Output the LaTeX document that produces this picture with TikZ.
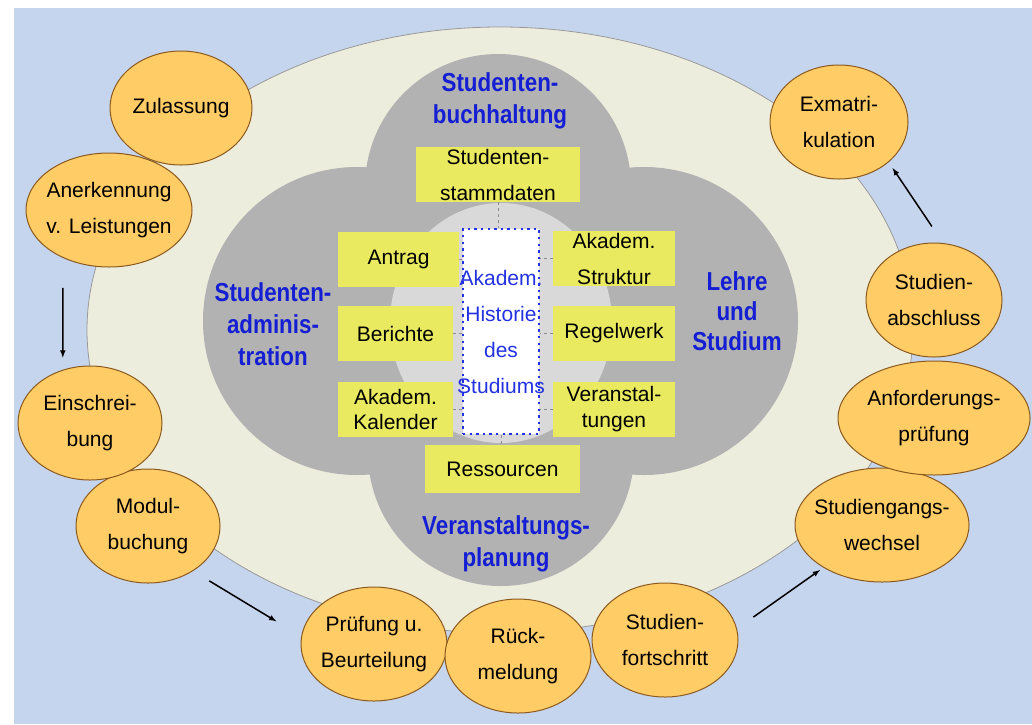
\documentclass[tikz,border=0pt]{standalone}
\usepackage{fontspec}
\setmainfont{Liberation Sans}
\newfontfamily\areafont[FakeStretch=0.86]{Liberation Sans}
\usetikzlibrary{shapes.geometric}

\definecolor{bgblue}{RGB}{198,213,238}
\definecolor{cream}{RGB}{237,237,222}
\definecolor{coregray}{RGB}{178,178,178}
\definecolor{innergray}{RGB}{217,217,217}
\definecolor{boxyellow}{RGB}{234,234,96}
\definecolor{procfill}{RGB}{255,204,102}
\definecolor{procline}{RGB}{140,90,30}
\definecolor{areablue}{RGB}{20,30,210}
\definecolor{histblue}{RGB}{35,50,225}

\begin{document}
\begin{tikzpicture}[auto, >=latex, x=1pt, y=-1pt]
        \tikzstyle{proc} = [ellipse, draw=procline, fill=procfill, line width=1pt, inner xsep=-25pt, inner ysep=0pt, minimum height=114pt, align=center, font=\fontsize{21}{36}\selectfont]
        \tikzstyle{datablock} = [rectangle, fill=boxyellow, inner sep=0pt, minimum height=55pt, align=center, font=\fontsize{21}{36}\selectfont]
        \tikzstyle{area} = [text=areablue, align=center, font=\areafont\fontsize{26}{32}\selectfont\bfseries]
        \tikzstyle{histbox} = [rectangle, draw=histblue, fill=white, line width=2.4pt, dash pattern=on 2.4pt off 4.2pt, text=histblue, inner xsep=-6pt, minimum width=76pt, minimum height=205pt, align=center, font=\fontsize{21}{36}\selectfont]
        \tikzstyle{link} = [draw=black!45, dashed, line width=0.8pt]
        \tikzstyle{flow} = [->, line width=1.5pt]

        \fill[white] (0,0) rectangle (1032,724);
        \useasboundingbox (0,0) rectangle (1032,724);
        \fill[bgblue] (14,8) rectangle (1032,724);
        \filldraw[fill=cream, draw=black!40, line width=0.8pt] (500,330) ellipse [x radius=413pt, y radius=303pt];

        \fill[coregray] (498,187) circle [radius=133pt];
        \fill[coregray] (501,453) circle [radius=133pt];
        \fill[coregray] (357,321) circle [radius=154pt];
        \fill[coregray] (644,321) circle [radius=154pt];
        \fill[innergray] (501,323) ellipse [x radius=111pt, y radius=120pt];

        \node [area] (buchh) at (500,101) {Studenten-\\buchhaltung};
        \node [area] (admin) at (273,324) {Studenten-\\adminis-\\tration};
        \node [area, font=\areafont\fontsize{26}{30}\selectfont\bfseries] (lehre) at (737,311) {Lehre\\und\\Studium};
        \node [area] (planung) at (506,544) {Veranstaltungs-\\planung};

        \node [histbox] (hist) at (501,331.5) {Akadem.\\Historie\\des\\Studiums};
        \node [datablock, minimum width=164pt] (stamm) at (498,174.5) {Studenten-\\stammdaten};
        \node [datablock, minimum width=121pt] (antrag) at (398.5,259.5) {Antrag};
        \node [datablock, minimum width=115pt] (berichte) at (395.5,333.5) {Berichte};
        \node [datablock, minimum width=115pt, font=\fontsize{21}{25}\selectfont] (kalender) at (395.5,409) {Akadem.\\Kalender};
        \node [datablock, minimum width=122pt] (struktur) at (614,258.5) {Akadem.\\Struktur};
        \node [datablock, minimum width=122pt] (regel) at (614,333.5) {Regelwerk};
        \node [datablock, minimum width=122pt, font=\fontsize{21}{26}\selectfont] (veranst) at (614,409) {Veranstal-\\tungen};
        \node [datablock, minimum width=155pt, minimum height=48pt] (ressourcen) at (502.5,469) {Ressourcen};

        \draw [link] (stamm.south) -- (stamm.south |- hist.north);
        \draw [link] (antrag.east) -- (antrag.east -| hist.west);
        \draw [link] (berichte.east) -- (berichte.east -| hist.west);
        \draw [link] (kalender.east) -- (kalender.east -| hist.west);
        \draw [link] (struktur.west) -- (struktur.west -| hist.east);
        \draw [link] (regel.west) -- (regel.west -| hist.east);
        \draw [link] (veranst.west) -- (veranst.west -| hist.east);
        \draw [link] (hist.south) -- (hist.south |- ressourcen.north);

        \node [proc, minimum width=166pt] (anerk) at (109,210) {Anerkennung\\v. Leistungen};
        \node [proc, minimum width=142pt] (zulassung) at (181,108) {Zulassung};
        \node [proc, minimum width=144pt] (modul) at (148,526) {Modul-\\buchung};
        \node [proc, minimum width=144pt] (einschr) at (90,423) {Einschrei-\\bung};
        \node [proc, minimum width=146pt] (pruefung) at (374,644) {Prüfung u.\\Beurteilung};
        \node [proc, minimum width=146pt] (rueckm) at (518,656) {Rück-\\meldung};
        \node [proc, minimum width=146pt] (fortschritt) at (665,640) {Studien-\\fortschritt};
        \node [proc, minimum width=174pt] (wechsel) at (882,525) {Studiengangs-\\wechsel};
        \node [proc, minimum width=192pt] (anford) at (934,418) {Anforderungs-\\prüfung};
        \node [proc, minimum width=136pt] (abschluss) at (934,300) {Studien-\\abschluss};
        \node [proc, minimum width=138pt] (exmat) at (839,122) {Exmatri-\\kulation};

        \draw [flow, shorten <=30pt, shorten >=12pt] (anerk.226) -- (einschr.117);
        \draw [flow, shorten <=19pt, shorten >=29pt] (modul.315) -- (pruefung.174);
        \draw [flow, shorten <=20pt, shorten >=4pt] (fortschritt.9) -- (wechsel.216);
        \draw [flow, shorten <=20pt, shorten >=7pt] (abschluss.81) -- (exmat.321);
\end{tikzpicture}
\end{document}
